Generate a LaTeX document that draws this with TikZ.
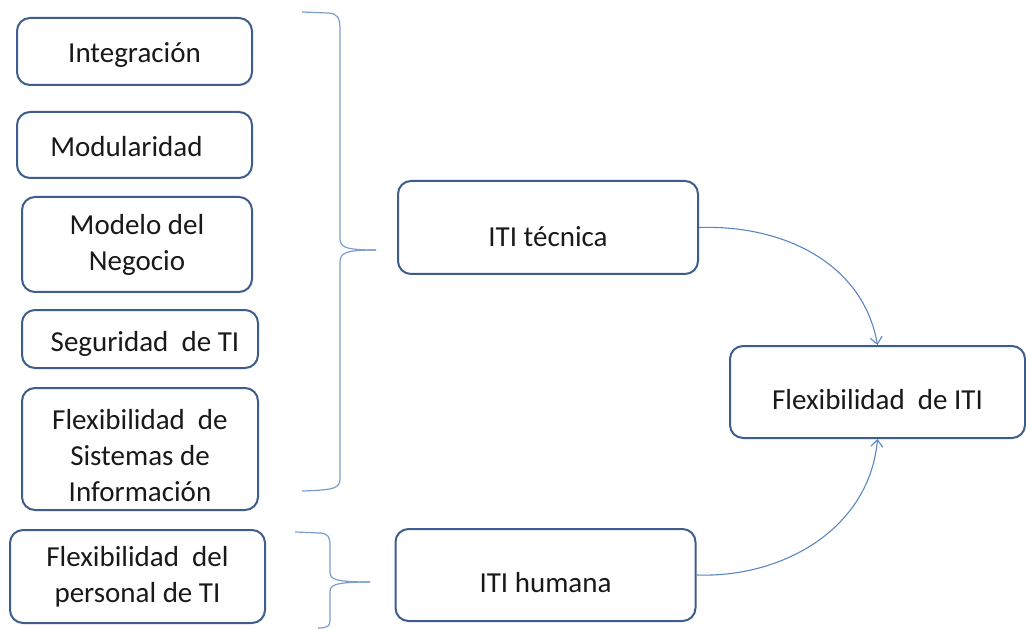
\documentclass[tikz,border=0pt]{standalone}
\usepackage{fontspec}
\setmainfont{Carlito}
\usetikzlibrary{arrows.meta}
\definecolor{boxline}{HTML}{3D5E8C}
\definecolor{braceline}{HTML}{7A9DCF}
\definecolor{arrowline}{HTML}{5B86C2}
\tikzset{
  itembox/.style={draw=boxline, line width=1pt, rounded corners=6.5pt, align=center,
    inner sep=0pt, font=\fontsize{14.5}{18}\selectfont, text=black!90},
  % single-line labels: baseline sits half of the given height below the centre
  baseline below/.style={text height=#1, text depth=0pt},
  bracepath/.style={draw=braceline, line width=0.6pt},
  flow/.style={draw=arrowline, line width=0.55pt, -{Straight Barb[length=3.5pt,width=6pt]}},
}
\begin{document}
\begin{tikzpicture}[x=0.5pt, y=-0.5pt]
\useasboundingbox (0,0) rectangle (1026,630);

% left column of components (sizes in pt: one unit is 0.5pt)
\node[itembox, baseline below=10.8pt, minimum width=117.5pt, minimum height=33.5pt] (integ) at (134.5,51.5) {Integración};
\node[itembox, baseline below=11.7pt, minimum width=117.5pt, minimum height=33pt] (modul) at (134.5,145) {Modularidad\hspace*{8pt}};
\node[itembox, minimum width=115pt, minimum height=47.5pt] (model) at (137,244.5) {Modelo del\\Negocio};
\node[itembox, baseline below=12.7pt, minimum width=118pt, minimum height=29pt] (segur) at (140,339) {\hspace*{5pt}Seguridad\ \ de TI};
\node[itembox, minimum width=118pt, minimum height=61pt] (flexsi) at (140,449) {\rule{0pt}{17pt}Flexibilidad\ \ de\\Sistemas de\\Información};
\node[itembox, minimum width=127.5pt, minimum height=46.5pt] (perso) at (137.5,576.5) {Flexibilidad\ \ del\\personal de TI};

% middle and right boxes
\node[itembox, baseline below=19pt, minimum width=150pt, minimum height=46.5pt] (tec) at (548,227.5) {ITI técnica};
\node[itembox, baseline below=17.3pt, minimum width=150pt, minimum height=46pt] (hum) at (545.5,575) {ITI humana};
\node[itembox, baseline below=17pt, minimum width=147.5pt, minimum height=46pt] (flex) at (877.5,392) {Flexibilidad\ \ de ITI};

% braces grouping the components
\coordinate (b1tip) at (376,250);
\draw[bracepath] (302,12) -- (328,13) .. controls (338,13.5) and (340,18) .. (340,30)
  -- (340,238) .. controls (340,247) and (344,250) .. (b1tip);
\draw[bracepath] (b1tip) .. controls (344,250) and (340,253) .. (340,263)
  -- (340,478) .. controls (340,488) and (336,490) .. (302,491);

\coordinate (b2tip) at (370,582);
\draw[bracepath] (295,532) -- (320,533) .. controls (328,533.5) and (330,537) .. (330,545)
  -- (330,572) .. controls (330,579) and (334,582) .. (b2tip);
\draw[bracepath] (b2tip) .. controls (334,582) and (330,585) .. (330,592)
  -- (330,620) .. controls (330,626) and (328,628) .. (318,628);

% influence arrows
\draw[flow] (tec.east) to[out=2, in=100] (flex.north);
\draw[flow] (hum.east) to[out=-2, in=-95] (flex.south);
\end{tikzpicture}
\end{document}
